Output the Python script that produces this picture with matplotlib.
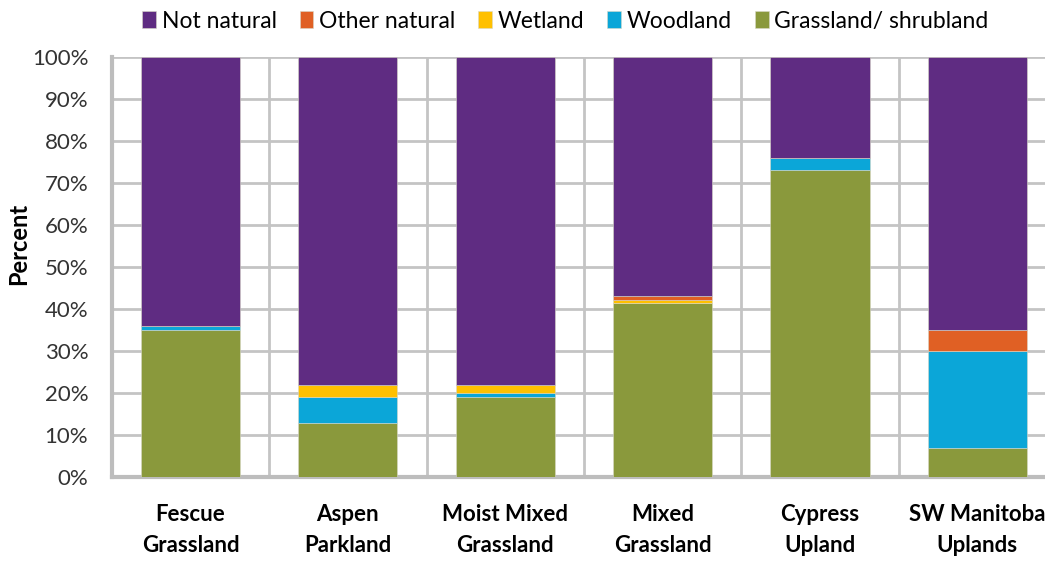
import matplotlib.pyplot as plt
import numpy as np

plt.rcParams['font.family'] = ['Lato', 'DejaVu Sans']

categories = ['Fescue\nGrassland', 'Aspen\nParkland', 'Moist Mixed\nGrassland',
              'Mixed\nGrassland', 'Cypress\nUpland', 'SW Manitoba\nUplands']

# percent of area, stacked bottom to top
grassland = [35, 13, 19, 41.5, 73, 7]
woodland = [1, 6, 1, 0, 3, 23]
wetland = [0, 3, 2, 0.7, 0, 0]
other_natural = [0, 0, 0, 1.0, 0, 5]
not_natural = [64, 78, 78, 56.8, 24, 65]

series = [
    ('Grassland/ shrubland', grassland, '#8A993C'),
    ('Woodland', woodland, '#0BA6D8'),
    ('Wetland', wetland, '#FFC000'),
    ('Other natural', other_natural, '#E06024'),
    ('Not natural', not_natural, '#5F2C82'),
]

fig = plt.figure(figsize=(10.45, 5.62), dpi=100)
ax = fig.add_axes([0.107, 0.151, 0.9035, 0.7476])

x = np.arange(len(categories))
bottom = np.zeros(len(categories))
handles = {}
for name, vals, color in series:
    vals = np.array(vals, dtype=float)
    b = ax.bar(x, vals, width=0.63, bottom=bottom, color=color,
               edgecolor='#d8d8c8', linewidth=0.4, zorder=3, label=name)
    handles[name] = b
    bottom += vals

ax.set_xlim(-0.5, len(categories) - 0.5)
ax.set_ylim(0, 100)
ax.set_yticks(np.arange(0, 101, 10))
ax.set_yticklabels([f'{v}%' for v in range(0, 101, 10)], fontsize=16, color='#333333')
ax.set_xticks(x)
ax.set_xticklabels(categories, fontsize=16, fontweight='bold', linespacing=1.6)
ax.tick_params(axis='x', length=0, pad=19)
ax.tick_params(axis='y', length=0, pad=17)
ax.set_ylabel('Percent', fontsize=17, fontweight='bold')
ax.yaxis.set_label_coords(-0.086, 0.555)

# gridlines: horizontal at ticks, vertical between categories
for yv in range(10, 101, 10):
    ax.axhline(yv, color='#c4c4c4', linewidth=2, zorder=1)
for xv in np.arange(0.5, len(categories) - 0.5, 1):
    ax.axvline(xv, color='#c4c4c4', linewidth=2, zorder=1)

for side in ['top', 'right']:
    ax.spines[side].set_visible(False)
for side in ['left', 'bottom']:
    ax.spines[side].set_color('#bdbdbd')
    ax.spines[side].set_linewidth(3)

order = ['Not natural', 'Other natural', 'Wetland', 'Woodland', 'Grassland/ shrubland']
fig.legend([handles[n] for n in order], order, loc='upper center',
           bbox_to_anchor=(0.541, 1.018), ncol=5, frameon=False, fontsize=16.5,
           handlelength=0.6, handleheight=0.7, handletextpad=0.25, columnspacing=1.0)

fig.savefig('out.png', dpi=100)
